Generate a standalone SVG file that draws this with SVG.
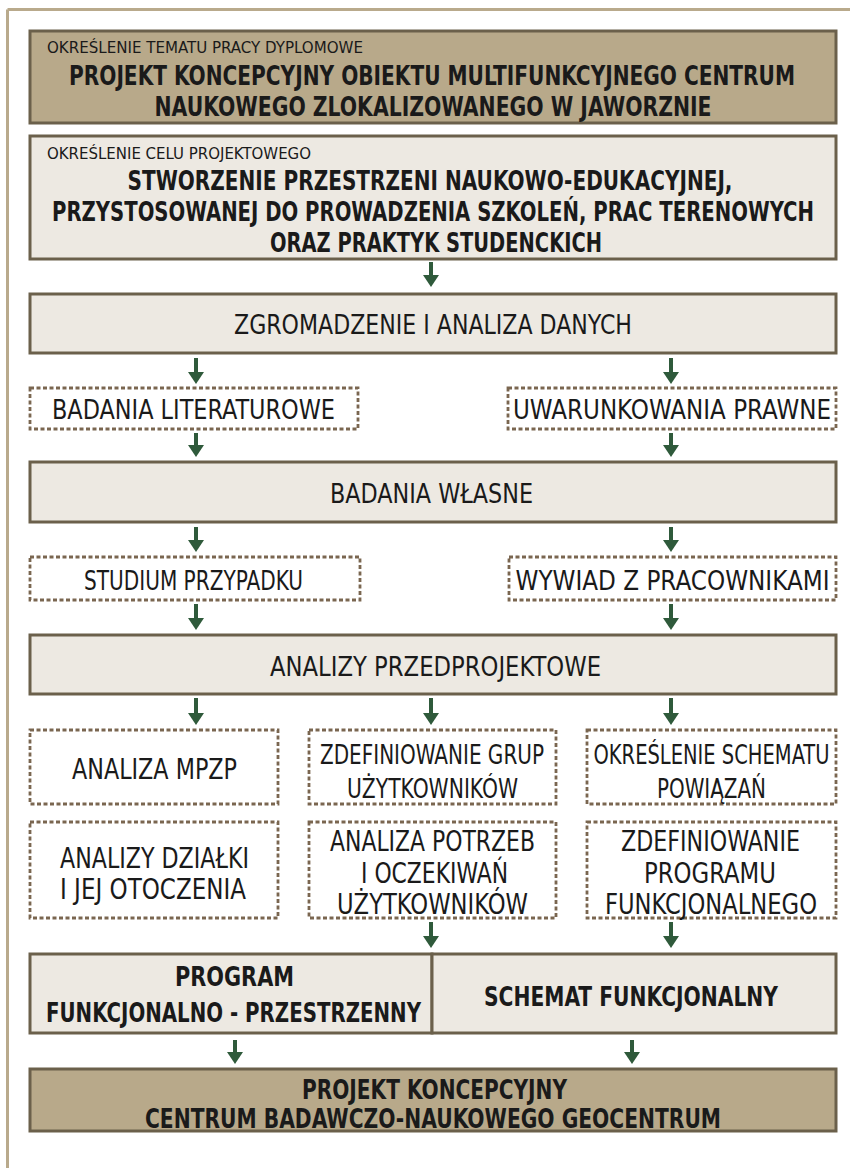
<svg xmlns="http://www.w3.org/2000/svg" width="850" height="1168" viewBox="0 0 850 1168">
<style>
.frame{stroke:#b9aa8c;stroke-width:3;fill:none}
.tan{fill:#b8a98a;stroke:#6b604b;stroke-width:3}
.light{fill:#ede9e2;stroke:#6b604b;stroke-width:3}
.dash{fill:#ffffff;stroke:#7a6650;stroke-width:2.8;stroke-dasharray:4 2.5}
text{font-family:"Liberation Sans Narrow","DejaVu Sans Condensed","Liberation Sans",sans-serif;font-stretch:condensed;fill:#1a1a1a;text-anchor:middle}
.sm{font-size:16px;text-anchor:start}
.b{font-size:26px;font-weight:bold}
.b2{font-size:26px;font-weight:bold}
.r{font-size:26px}
.r2{font-size:28px}
.conn line{stroke:#2f5a3b;stroke-width:4}
</style>
<line class="frame" x1="7.5" y1="9.5" x2="850" y2="9.5"/>
<line class="frame" x1="7.5" y1="9.5" x2="7.5" y2="1168"/>

<g id="n-temat">
<rect class="tan" x="30" y="31" width="806" height="92"/>
<text class="sm" x="47" y="53" textLength="316" lengthAdjust="spacingAndGlyphs">OKREŚLENIE TEMATU PRACY DYPLOMOWE</text>
<text class="b" x="432" y="85" textLength="726" lengthAdjust="spacingAndGlyphs">PROJEKT KONCEPCYJNY OBIEKTU MULTIFUNKCYJNEGO CENTRUM</text>
<text class="b" x="433" y="116" textLength="557" lengthAdjust="spacingAndGlyphs">NAUKOWEGO ZLOKALIZOWANEGO W JAWORZNIE</text>
</g>

<g id="n-cel">
<rect class="light" x="30" y="136" width="806" height="123"/>
<text class="sm" x="47" y="159" textLength="264" lengthAdjust="spacingAndGlyphs">OKREŚLENIE CELU PROJEKTOWEGO</text>
<text class="b" x="430" y="190" textLength="605" lengthAdjust="spacingAndGlyphs">STWORZENIE PRZESTRZENI NAUKOWO-EDUKACYJNEJ,</text>
<text class="b" x="433" y="221" textLength="762" lengthAdjust="spacingAndGlyphs">PRZYSTOSOWANEJ DO PROWADZENIA SZKOLEŃ, PRAC TERENOWYCH</text>
<text class="b" x="436" y="252" textLength="332" lengthAdjust="spacingAndGlyphs">ORAZ PRAKTYK STUDENCKICH</text>
</g>

<g id="n-zgromadzenie">
<rect class="light" x="30" y="294" width="806" height="59"/>
<text class="r" x="433" y="334" textLength="398" lengthAdjust="spacingAndGlyphs">ZGROMADZENIE I ANALIZA DANYCH</text>
</g>

<g id="n-literatura">
<rect class="dash" x="30" y="388" width="328" height="41"/>
<text class="r" x="193.5" y="419" textLength="283" lengthAdjust="spacingAndGlyphs">BADANIA LITERATUROWE</text>
</g>
<g id="n-prawne">
<rect class="dash" x="508" y="388" width="328" height="41"/>
<text class="r" x="672" y="419" textLength="318" lengthAdjust="spacingAndGlyphs">UWARUNKOWANIA PRAWNE</text>
</g>

<g id="n-wlasne">
<rect class="light" x="30" y="462" width="806" height="60"/>
<text class="r" x="431.5" y="503" textLength="203" lengthAdjust="spacingAndGlyphs">BADANIA WŁASNE</text>
</g>

<g id="n-studium">
<rect class="dash" x="30" y="557" width="330" height="43"/>
<text class="r" x="193.5" y="590" textLength="219" lengthAdjust="spacingAndGlyphs">STUDIUM PRZYPADKU</text>
</g>
<g id="n-wywiad">
<rect class="dash" x="509" y="557" width="327" height="43"/>
<text class="r" x="672.5" y="590" textLength="314" lengthAdjust="spacingAndGlyphs">WYWIAD Z PRACOWNIKAMI</text>
</g>

<g id="n-przedprojektowe">
<rect class="light" x="30" y="635" width="806" height="59"/>
<text class="r" x="435.5" y="676" textLength="331" lengthAdjust="spacingAndGlyphs">ANALIZY PRZEDPROJEKTOWE</text>
</g>

<g id="n-mpzp">
<rect class="dash" x="30" y="730" width="248" height="74"/>
<text class="r2" x="154.5" y="779" textLength="165" lengthAdjust="spacingAndGlyphs">ANALIZA MPZP</text>
</g>
<g id="n-grupy">
<rect class="dash" x="309" y="730" width="247" height="74"/>
<text class="r" x="432" y="764" textLength="224" lengthAdjust="spacingAndGlyphs">ZDEFINIOWANIE GRUP</text>
<text class="r" x="432.5" y="798" textLength="171" lengthAdjust="spacingAndGlyphs">UŻYTKOWNIKÓW</text>
</g>
<g id="n-schemat-powiazan">
<rect class="dash" x="587" y="730" width="249" height="74"/>
<text class="r" x="711.5" y="764" textLength="236" lengthAdjust="spacingAndGlyphs">OKREŚLENIE SCHEMATU</text>
<text class="r" x="711.5" y="798" textLength="109" lengthAdjust="spacingAndGlyphs">POWIĄZAŃ</text>
</g>

<g id="n-dzialka">
<rect class="dash" x="30" y="822" width="248" height="96"/>
<text class="r2" x="154.5" y="868" textLength="189" lengthAdjust="spacingAndGlyphs">ANALIZY DZIAŁKI</text>
<text class="r2" x="153" y="899" textLength="186" lengthAdjust="spacingAndGlyphs">I JEJ OTOCZENIA</text>
</g>
<g id="n-potrzeby">
<rect class="dash" x="309" y="822" width="247" height="96"/>
<text class="r2" x="432.5" y="851" textLength="205" lengthAdjust="spacingAndGlyphs">ANALIZA POTRZEB</text>
<text class="r2" x="434.5" y="883" textLength="147" lengthAdjust="spacingAndGlyphs">I OCZEKIWAŃ</text>
<text class="r2" x="432.5" y="914" textLength="191" lengthAdjust="spacingAndGlyphs">UŻYTKOWNIKÓW</text>
</g>
<g id="n-program-funkc">
<rect class="dash" x="587" y="822" width="249" height="96"/>
<text class="r2" x="710.5" y="851" textLength="179" lengthAdjust="spacingAndGlyphs">ZDEFINIOWANIE</text>
<text class="r2" x="710" y="883" textLength="132" lengthAdjust="spacingAndGlyphs">PROGRAMU</text>
<text class="r2" x="711" y="914" textLength="212" lengthAdjust="spacingAndGlyphs">FUNKCJONALNEGO</text>
</g>

<g id="n-program">
<rect class="light" x="30" y="954" width="402" height="79"/>
<text class="b2" x="234.5" y="986" textLength="119" lengthAdjust="spacingAndGlyphs">PROGRAM</text>
<text class="b2" x="233.5" y="1022" textLength="375" lengthAdjust="spacingAndGlyphs">FUNKCJONALNO - PRZESTRZENNY</text>
</g>
<g id="n-schemat">
<rect class="light" x="432" y="954" width="404" height="79"/>
<text class="b2" x="631" y="1006" textLength="294" lengthAdjust="spacingAndGlyphs">SCHEMAT FUNKCJONALNY</text>
</g>

<g id="n-projekt">
<rect class="tan" x="30" y="1069" width="806" height="62"/>
<text class="b2" x="434.5" y="1099" textLength="265" lengthAdjust="spacingAndGlyphs">PROJEKT KONCEPCYJNY</text>
<text class="b2" x="433" y="1128" textLength="576" lengthAdjust="spacingAndGlyphs">CENTRUM BADAWCZO-NAUKOWEGO GEOCENTRUM</text>
</g>

<g id="connectors" class="conn" fill="#2f5a3b">
<line x1="431" y1="262" x2="431" y2="276"/><polygon points="423,275 439,275 431,287"/>
<line x1="196" y1="358" x2="196" y2="373"/><polygon points="188,372 204,372 196,384"/>
<line x1="671" y1="358" x2="671" y2="373"/><polygon points="663,372 679,372 671,384"/>
<line x1="196" y1="433" x2="196" y2="446"/><polygon points="188,445 204,445 196,457"/>
<line x1="671" y1="433" x2="671" y2="446"/><polygon points="663,445 679,445 671,457"/>
<line x1="196" y1="527" x2="196" y2="541"/><polygon points="188,540 204,540 196,552"/>
<line x1="671" y1="527" x2="671" y2="541"/><polygon points="663,540 679,540 671,552"/>
<line x1="196" y1="604" x2="196" y2="619"/><polygon points="188,618 204,618 196,630"/>
<line x1="671" y1="604" x2="671" y2="619"/><polygon points="663,618 679,618 671,630"/>
<line x1="196" y1="698" x2="196" y2="714"/><polygon points="188,713 204,713 196,725"/>
<line x1="431" y1="698" x2="431" y2="714"/><polygon points="423,713 439,713 431,725"/>
<line x1="671" y1="698" x2="671" y2="714"/><polygon points="663,713 679,713 671,725"/>
<line x1="431" y1="922" x2="431" y2="937"/><polygon points="423,936 439,936 431,948"/>
<line x1="671" y1="922" x2="671" y2="937"/><polygon points="663,936 679,936 671,948"/>
<line x1="235" y1="1040" x2="235" y2="1053"/><polygon points="227,1052 243,1052 235,1064"/>
<line x1="632" y1="1040" x2="632" y2="1053"/><polygon points="624,1052 640,1052 632,1064"/>
</g>
</svg>
